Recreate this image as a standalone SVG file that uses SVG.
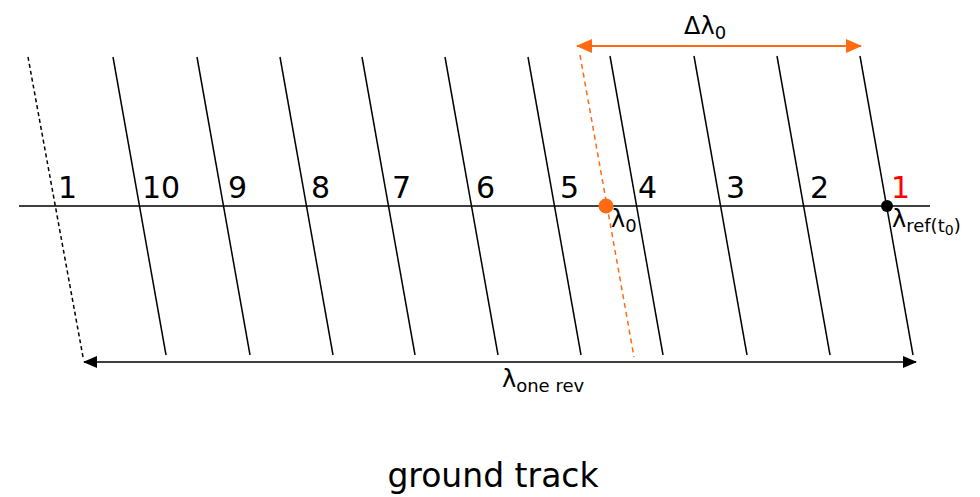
<svg xmlns="http://www.w3.org/2000/svg" width="980" height="497" viewBox="0 0 980 497">
<defs>
<style>
text{font-family:"DejaVu Sans","Verdana",sans-serif;fill:#000}
.trk{stroke:#000;stroke-width:1.5;fill:none}
.num{font-size:30px}
.sub{font-size:18px}
.lab{font-size:24px}
</style>
<marker id="ab" markerWidth="14" markerHeight="12" refX="13" refY="6" orient="auto-start-reverse" markerUnits="userSpaceOnUse"><path d="M0,0 L14,6 L0,12 Z" fill="#000"/></marker>
<marker id="ao" markerWidth="16" markerHeight="14" refX="15" refY="7" orient="auto-start-reverse" markerUnits="userSpaceOnUse"><path d="M0,0 L16,7 L0,14 Z" fill="#ff6a13"/></marker>
</defs>
<rect width="980" height="497" fill="#fff"/>
<g id="equator"><line x1="19" y1="206" x2="930" y2="206" stroke="#000" stroke-width="1.5"/></g>
<g id="tracks">
<line id="t1" class="trk" x1="28" y1="57" x2="83" y2="357" stroke-dasharray="4,3"/>
<line id="t10" class="trk" x1="113" y1="57" x2="166" y2="355"/>
<line id="t9" class="trk" x1="197" y1="57" x2="250" y2="355"/>
<line id="t8" class="trk" x1="280" y1="57" x2="333" y2="355"/>
<line id="t7" class="trk" x1="362" y1="57" x2="415" y2="355"/>
<line id="t6" class="trk" x1="445" y1="57" x2="498" y2="355"/>
<line id="t5" class="trk" x1="528" y1="57" x2="581" y2="355"/>
<line id="t4" class="trk" x1="610" y1="56" x2="663" y2="355"/>
<line id="t3" class="trk" x1="694" y1="56" x2="747" y2="355"/>
<line id="t2" class="trk" x1="777" y1="56" x2="830" y2="355"/>
<line id="t1r" class="trk" x1="860" y1="56" x2="913" y2="355"/>
<line id="t0" x1="580" y1="55" x2="634" y2="357" stroke="#ff6a13" stroke-width="1.5" stroke-dasharray="5,4"/>
</g>
<g id="connectors">
<line x1="577" y1="46" x2="861" y2="46" stroke="#ff6a13" stroke-width="2" marker-start="url(#ao)" marker-end="url(#ao)"/>
<line x1="84" y1="362" x2="916" y2="362" stroke="#000" stroke-width="1.5" marker-start="url(#ab)" marker-end="url(#ab)"/>
</g>
<g id="points">
<circle cx="606" cy="206" r="7.5" fill="#ff6a13"/>
<circle cx="887" cy="206" r="6" fill="#000"/>
</g>
<g id="labels">
<text class="num" x="58" y="198">1</text>
<text class="num" x="142" y="198">10</text>
<text class="num" x="228" y="198">9</text>
<text class="num" x="311" y="198">8</text>
<text class="num" x="392" y="198">7</text>
<text class="num" x="476" y="198">6</text>
<text class="num" x="560" y="198">5</text>
<text class="num" x="638" y="198">4</text>
<text class="num" x="726" y="198">3</text>
<text class="num" x="810" y="198">2</text>
<text class="num" x="891" y="198" style="fill:#ff0000">1</text>
<text class="lab" x="611" y="227">λ<tspan class="sub" dy="5">0</tspan></text>
<text class="lab" x="892" y="227">λ<tspan class="sub" dy="5">ref(t</tspan><tspan style="font-size:14px" dy="3">0</tspan><tspan class="sub" dy="-3">)</tspan></text>
<text class="lab" x="684" y="34">Δλ<tspan class="sub" dy="5">0</tspan></text>
<text class="lab" x="502" y="387">λ<tspan class="sub" dy="5">one rev</tspan></text>
<text x="493" y="487" text-anchor="middle" style="font-size:33px">ground track</text>
</g>
</svg>
